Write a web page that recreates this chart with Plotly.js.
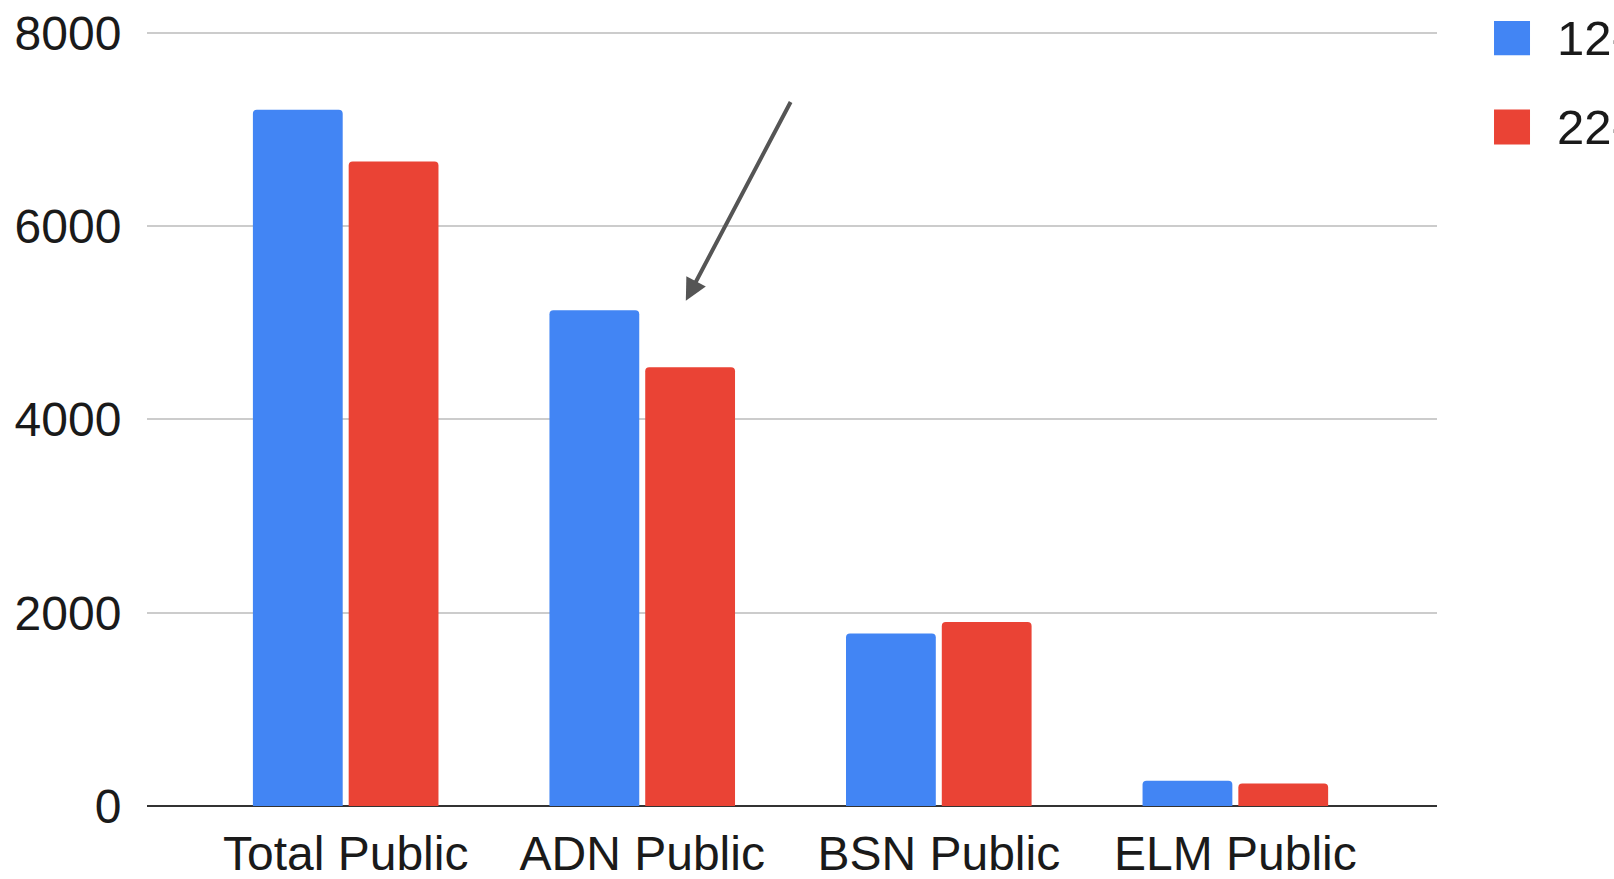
<!DOCTYPE html>
<html>
<head>
<meta charset="utf-8">
<script src="https://cdn.plot.ly/plotly-3.0.1.min.js"></script>
<style>
  html, body { margin: 0; padding: 0; background: #fff; overflow: hidden; }
  #chart { width: 1614px; height: 879px; }
</style>
</head>
<body>
<div id="chart"></div>
<script>
const categories = ["Total Public", "ADN Public", "BSN Public", "ELM Public"];
const seriesNames = ["12-13", "22-23"];
const series1 = [7205, 5130, 1785, 262];
const series2 = [6670, 4540, 1905, 232];
const seriesColors = ["#4285F4", "#EA4335"];
const yTicks = [0, 2000, 4000, 6000, 8000];

// arrow annotation end points (data coordinates)
const arrowTip = { x: 1.147, y: 5228 };
const arrowTail = { x: 1.503, y: 7300 };

const fontFam = "Liberation Sans, Arial, sans-serif";

const traces = [series1, series2].map((vals, i) => ({
  type: "bar",
  x: categories,
  y: vals,
  name: seriesNames[i],
  marker: { color: seriesColors[i], cornerradius: 4, line: { width: 0 } },
  showlegend: false,
  hoverinfo: "x+y+name"
}));

// manual legend (large squares)
const legendY = [[1.0115, 0.9676], [0.8974, 0.8523]];
const shapes = seriesNames.map((n, i) => ({
  type: "rect", xref: "paper", yref: "paper",
  x0: 1.0442, x1: 1.0721, y0: legendY[i][1], y1: legendY[i][0],
  fillcolor: seriesColors[i], line: { width: 0 }
}));
const annotations = seriesNames.map((n, i) => ({
  xref: "paper", yref: "paper",
  x: 1.0915, y: (legendY[i][0] + legendY[i][1]) / 2,
  xanchor: "left", yanchor: "middle",
  text: n, showarrow: false,
  font: { family: fontFam, size: 49, color: "#1a1a1a" }
}));
annotations.push({
  x: arrowTip.x, y: arrowTip.y, xref: "x", yref: "y",
  ax: arrowTail.x, ay: arrowTail.y, axref: "x", ayref: "y",
  text: "", showarrow: true,
  arrowhead: 2, arrowsize: 1.1, arrowwidth: 4, arrowcolor: "#555555",
  standoff: 0, startstandoff: 0
});

const layout = {
  width: 1614, height: 879,
  margin: { l: 147, r: 177, t: 30, b: 72.5, autoexpand: false },
  paper_bgcolor: "#fff", plot_bgcolor: "#fff",
  font: { family: fontFam, color: "#1a1a1a", size: 48 },
  barmode: "group",
  bargap: 0.354,
  bargroupgap: 0.0625,
  xaxis: {
    type: "category",
    range: [-0.67, 3.68],
    showgrid: false,
    showline: false,
    zeroline: false,
    ticks: "outside", ticklen: 5, tickcolor: "rgba(0,0,0,0)",
    tickfont: { family: fontFam, size: 48, color: "#1a1a1a" },
    automargin: false,
    fixedrange: true
  },
  yaxis: {
    range: [0, 8030],
    tickvals: yTicks,
    ticktext: yTicks.map(String),
    showgrid: true, gridcolor: "#cccccc", gridwidth: 2,
    zeroline: true, zerolinecolor: "#333333", zerolinewidth: 2,
    showline: false,
    ticks: "outside", ticklen: 15, tickcolor: "rgba(0,0,0,0)",
    tickfont: { family: fontFam, size: 48, color: "#1a1a1a" },
    automargin: false,
    fixedrange: true
  },
  shapes: shapes,
  annotations: annotations,
  showlegend: false
};

Plotly.newPlot("chart", traces, layout, { displayModeBar: false, staticPlot: true });
</script>
</body>
</html>
